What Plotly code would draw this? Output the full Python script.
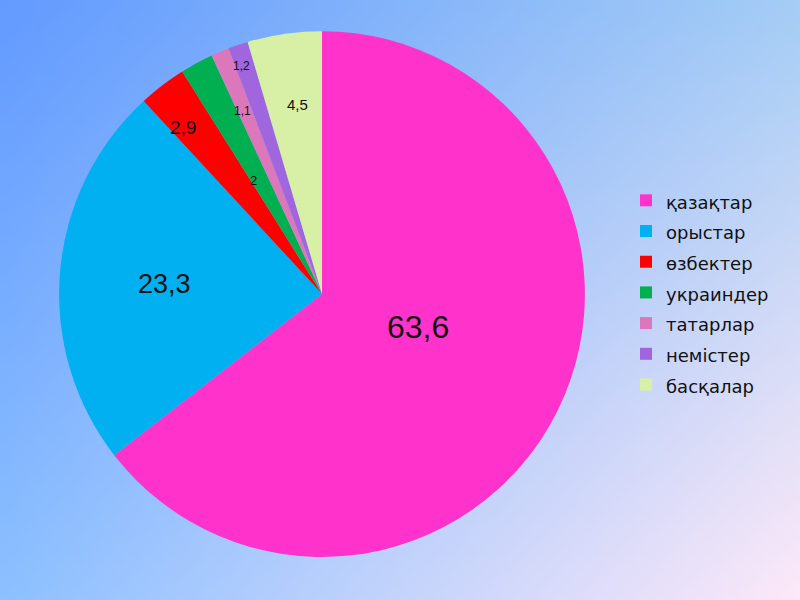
import base64, math, struct, zlib
import plotly.graph_objects as go

labels = ["қазақтар", "орыстар", "өзбектер", "украиндер", "татарлар", "немістер", "басқалар"]
values = [63.6, 23.3, 2.9, 2.0, 1.1, 1.2, 4.5]
colors = ["#ff33cc", "#00b0f0", "#ff0000", "#00b050", "#dd77bb", "#a066dd", "#d7f0a5"]

# label styling: font size, radial position (fraction of radius), angular nudge (degrees)
text_sizes = [32, 27, 19, 13, 12, 12, 15]
text_radius = [0.386, 0.60, 0.826, 0.505, 0.757, 0.919, 0.728]
text_nudge = [-7, -0.9, -2.5, -2.5, -0.6, -0.8, 1.0]

FIG_W, FIG_H = 800, 600
DOM_X = [0.07375, 0.73125]
DOM_Y = [0.0717, 0.948]


def fmt(v):
    return ("%g" % v).replace(".", ",")


# background gradient image (bilinear between corner colours)
W, H = 80, 60
TL, TR, BL, BR = (99, 155, 255), (165, 205, 245), (140, 192, 255), (252, 232, 248)
rows = []
for j in range(H):
    v = j / (H - 1)
    row = bytearray([0])
    for i in range(W):
        u = i / (W - 1)
        px = [round((1 - u) * (1 - v) * a + u * (1 - v) * b + (1 - u) * v * c + u * v * d)
              for a, b, c, d in zip(TL, TR, BL, BR)]
        row += bytes(px)
    rows.append(bytes(row))
raw = b"".join(rows)


def chunk(tag, data):
    c = struct.pack(">I", len(data)) + tag + data
    return c + struct.pack(">I", zlib.crc32(tag + data) & 0xffffffff)


png = b"\x89PNG\r\n\x1a\n" + chunk(b"IHDR", struct.pack(">IIBBBBB", W, H, 8, 2, 0, 0, 0)) \
    + chunk(b"IDAT", zlib.compress(raw)) + chunk(b"IEND", b"")
bg_uri = "data:image/png;base64," + base64.b64encode(png).decode()

legend_names = ['<span style="font-size:18px">%s</span>' % s for s in labels]

fig = go.Figure(go.Pie(
    labels=legend_names,
    values=values,
    textinfo="none",
    marker=dict(colors=colors, line=dict(width=0)),
    sort=False,
    direction="clockwise",
    rotation=0,
    hole=0,
    domain=dict(x=DOM_X, y=DOM_Y),
))

# value labels placed at each slice's mid angle (derived from the values)
cx = (DOM_X[0] + DOM_X[1]) / 2
cy = (DOM_Y[0] + DOM_Y[1]) / 2
R = min((DOM_X[1] - DOM_X[0]) * FIG_W, (DOM_Y[1] - DOM_Y[0]) * FIG_H) / 2
total = sum(values)
cum = 0.0
annotations = []
for v, size, rf, nd in zip(values, text_sizes, text_radius, text_nudge):
    mid = (cum + v / 2) / total * 2 * math.pi + math.radians(nd)
    cum += v
    x = cx + rf * R * math.sin(mid) / FIG_W
    y = cy + rf * R * math.cos(mid) / FIG_H
    annotations.append(dict(x=x, y=y, xref="paper", yref="paper", text=fmt(v), showarrow=False,
                            xanchor="center", yanchor="middle",
                            font=dict(family="Liberation Sans, Arial, sans-serif", size=size,
                                      color="#111111")))

fig.update_layout(
    width=FIG_W, height=FIG_H,
    margin=dict(l=0, r=0, t=0, b=0),
    paper_bgcolor="#a8c8f8",
    plot_bgcolor="rgba(0,0,0,0)",
    images=[dict(source=bg_uri, xref="paper", yref="paper", x=0, y=1, sizex=1, sizey=1,
                 xanchor="left", yanchor="top", sizing="stretch", layer="below")],
    annotations=annotations,
    showlegend=True,
    legend=dict(x=0.7825, y=0.70, xanchor="left", yanchor="top",
                font=dict(family="DejaVu Sans, Verdana, sans-serif", size=21.3, color="#111111"),
                bgcolor="rgba(0,0,0,0)", borderwidth=0, tracegroupgap=0),
)

fig.write_html("out.html", config={"displayModeBar": False},
               post_script="document.body.style.margin='0';")
